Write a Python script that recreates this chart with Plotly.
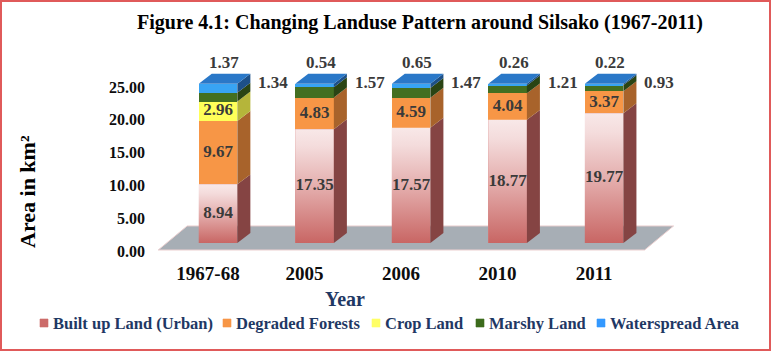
import plotly.graph_objects as go

# ---------------- data ----------------
years = ["1967-68", "2005", "2006", "2010", "2011"]
built_up = [8.94, 17.35, 17.57, 18.77, 19.77]
degraded = [9.67, 4.83, 4.59, 4.04, 3.37]
crop = [2.96, 0, 0, 0, 0]
marshy = [1.34, 1.57, 1.47, 1.21, 0.93]
water = [1.37, 0.54, 0.65, 0.26, 0.22]
series_names = ["Built up Land (Urban)", "Degraded Forests", "Crop Land",
                "Marshy Land", "Waterspread Area"]
y_ticks = [0, 5, 10, 15, 20, 25]

# ---------------- layout constants ----------------
W, H = 771, 351
ML, MR, MT, MB = 155, 81, 55, 96
X_RANGE = [-0.653, 4.89]
Y_RANGE = [-1.83, 28.66]
BAR_W = 0.40
DX = 0.135   # 3D depth (x units)
DY = 1.52    # 3D depth (y units)
FONT = "Liberation Serif"

front_cols = ["#d98e8c", "#f79646", "#ffff59", "#436f21", "#38a4f4"]
side_cols = ["#854443", "#a8632b", "#b5b53a", "#2a4414", "#1d5088"]
top_col = "#2a78c8"
legend_cols = ["#cc6b6a", "#f79646", "#ffff66", "#3c6b1c", "#3399ff"]
label_col = "#3a3a3a"
navy = "#1f3864"


def pxx(p):
    return (p - ML) / (W - ML - MR)


def pxy(p):
    return (H - MB - p) / (H - MT - MB)


series = [built_up, degraded, crop, marshy, water]
xs = list(range(len(years)))

fig = go.Figure()

# front faces
for name, vals, col in zip(series_names, series, front_cols):
    fig.add_trace(go.Bar(x=xs, y=vals, width=BAR_W, name=name,
                         marker=dict(color=col, line=dict(width=0)),
                         showlegend=False))

# cumulative bottoms / tops
bottoms, tops = [], []
run = [0.0] * len(years)
for vals in series:
    bottoms.append(run[:])
    run = [a + b for a, b in zip(run, vals)]
    tops.append(run[:])
totals = run

# built-up gradient overlay (light top -> darker pink-red bottom)
for i in xs:
    x0, x1 = i - BAR_W / 2, i + BAR_W / 2
    fig.add_trace(go.Scatter(
        x=[x0, x1, x1, x0, x0], y=[0, 0, built_up[i], built_up[i], 0],
        mode="lines", line=dict(width=0), fill="toself",
        fillgradient=dict(type="vertical",
                          colorscale=[[0, "#c86664"], [0.45, "#e2a8a7"],
                                      [0.85, "#f4dcdc"], [1, "#f8e8e8"]]),
        hoverinfo="skip", showlegend=False))

# side faces
for k, vals in enumerate(series):
    px_, py_ = [], []
    for i in xs:
        if vals[i] <= 0:
            continue
        xr = i + BAR_W / 2
        b, t = bottoms[k][i], tops[k][i]
        px_ += [xr, xr + DX, xr + DX, xr, xr, None]
        py_ += [b, b + DY, t + DY, t, b, None]
    fig.add_trace(go.Scatter(x=px_, y=py_, mode="lines", line=dict(width=0),
                             fill="toself", fillcolor=side_cols[k],
                             hoverinfo="skip", showlegend=False))

# top faces
tx, ty = [], []
for i in xs:
    xl, xr = i - BAR_W / 2, i + BAR_W / 2
    T = totals[i]
    tx += [xl, xr, xr + DX, xl + DX, xl, None]
    ty += [T, T, T + DY, T + DY, T, None]
fig.add_trace(go.Scatter(x=tx, y=ty, mode="lines", line=dict(width=0),
                         fill="toself", fillcolor=top_col,
                         hoverinfo="skip", showlegend=False))

# inner labels (built up, degraded, crop)
lx, ly, lt = [], [], []
for k in range(3):
    for i in xs:
        v = series[k][i]
        if v > 0:
            lx.append(i)
            ly.append((bottoms[k][i] + tops[k][i]) / 2)
            lt.append(f"{v:.2f}")
fig.add_trace(go.Scatter(x=lx, y=ly, text=lt, mode="text",
                         textfont=dict(family=FONT, size=17, color=label_col, weight="bold"),
                         hoverinfo="skip", showlegend=False))

annotations = []
lab_font = dict(family=FONT, size=17, color=label_col, weight="bold")
for i in xs:
    annotations.append(dict(x=i, y=totals[i], xref="x", yref="y", text=f"{water[i]:.2f}",
                            xanchor="center", yanchor="middle",
                            showarrow=False, xshift=6, yshift=21, font=lab_font))
    annotations.append(dict(x=i, y=totals[i], xref="x", yref="y", text=f"{marshy[i]:.2f}",
                            xanchor="center", yanchor="middle",
                            showarrow=False, xshift=55, yshift=1, font=lab_font))

# axis titles
annotations.append(dict(x=pxx(27), y=pxy(192), xref="paper", yref="paper",
                        xanchor="center", yanchor="middle",
                        text="Area in km²", textangle=-90, showarrow=False,
                        font=dict(family=FONT, size=22, color="#000000", weight="bold")))
annotations.append(dict(x=pxx(345), y=pxy(299), xref="paper", yref="paper",
                        xanchor="center", yanchor="middle",
                        text="Year", showarrow=False,
                        font=dict(family=FONT, size=20, color=navy, weight="bold")))

# legend (squares + labels)
shapes = []
sq_left = [40, 223, 372, 476, 597]
for name, col, sl in zip(series_names, legend_cols, sq_left):
    shapes.append(dict(type="rect", xref="paper", yref="paper",
                       x0=pxx(sl), x1=pxx(sl + 8), y0=pxy(327), y1=pxy(319),
                       fillcolor=col, line=dict(width=0.6, color=col)))
    annotations.append(dict(x=pxx(sl + 11), y=pxy(323), xref="paper", yref="paper",
                            xanchor="left", yanchor="middle", text=name, showarrow=False,
                            font=dict(family=FONT, size=16.5, color=navy, weight="bold")))

# floor
FL_FRONT_Y, FL_BACK_Y = -1.07, 2.6
FL_X0, FL_X1, FL_SHIFT = -0.62, 4.42, 0.30
shapes.append(dict(type="path", xref="x", yref="y", layer="below",
                   path=(f"M {FL_X0},{FL_FRONT_Y} L {FL_X1},{FL_FRONT_Y} "
                         f"L {FL_X1 + FL_SHIFT},{FL_BACK_Y} L {FL_X0 + FL_SHIFT},{FL_BACK_Y} Z"),
                   fillcolor="#a7aeb5", line=dict(color="#ecd0d0", width=1)))

# outer red border
shapes.append(dict(type="rect", xref="paper", yref="paper",
                   x0=pxx(1), x1=pxx(770), y0=pxy(350), y1=pxy(1),
                   line=dict(color="#e05a5a", width=2), fillcolor="rgba(0,0,0,0)"))

fig.update_layout(
    width=W, height=H,
    margin=dict(l=ML, r=MR, t=MT, b=MB),
    paper_bgcolor="white", plot_bgcolor="white",
    barmode="stack",
    showlegend=False,
    title=dict(text="Figure 4.1: Changing Landuse Pattern around Silsako (1967-2011)",
               x=420 / W, xref="container", xanchor="center",
               y=1 - 22 / H, yref="container", yanchor="middle",
               font=dict(family=FONT, size=20, color="#000000", weight="bold")),
    xaxis=dict(range=X_RANGE, tickvals=xs, ticktext=years, showgrid=False,
               zeroline=False, showline=False, ticks="", ticklabelshift=-10,
               ticklabelstandoff=5,
               tickfont=dict(family=FONT, size=19, color="#0d0d0d", weight="bold")),
    yaxis=dict(range=Y_RANGE, tickvals=y_ticks, tickformat=".2f", showgrid=False,
               zeroline=False, showline=False, ticks="", ticklabelshift=8,
               ticklabelstandoff=9,
               tickfont=dict(family=FONT, size=16, color="#0d0d0d", weight="bold")),
    annotations=annotations,
    shapes=shapes,
)

fig.write_html("out.html")
